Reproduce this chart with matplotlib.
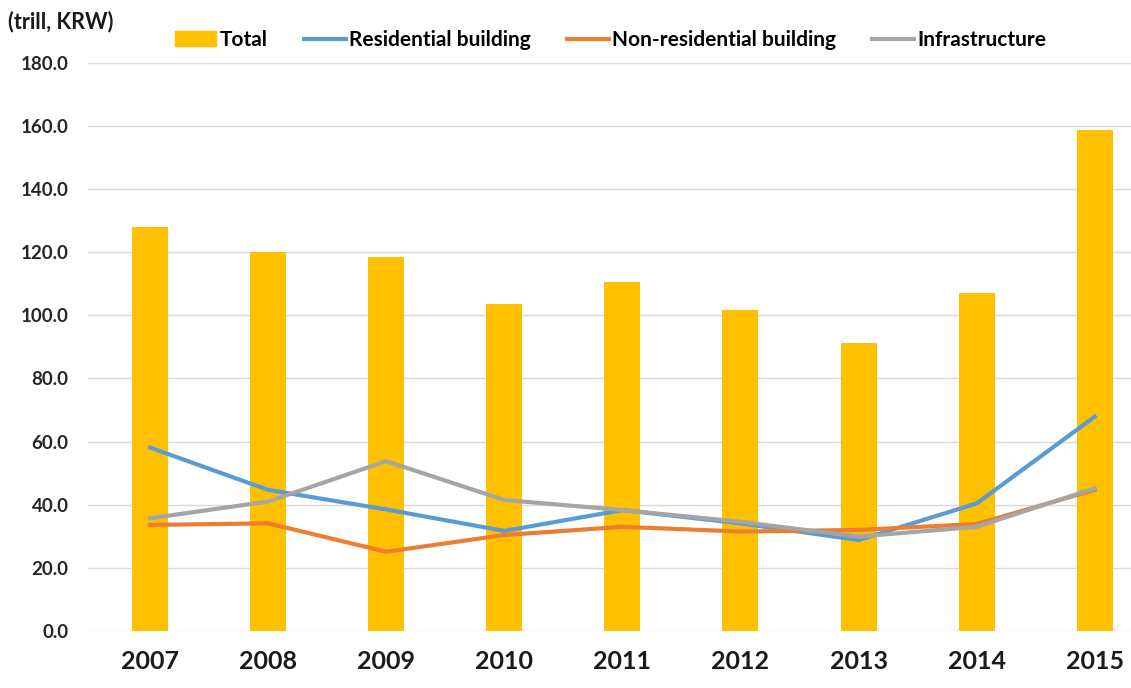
import matplotlib.pyplot as plt
from matplotlib.patches import Patch
from matplotlib.lines import Line2D

# data (trill, KRW)
years = ['2007', '2008', '2009', '2010', '2011', '2012', '2013', '2014', '2015']
total = [128.0, 120.1, 118.5, 103.6, 110.5, 101.7, 91.2, 107.1, 158.7]
residential = [58.1, 44.7, 38.5, 31.7, 38.3, 34.1, 28.8, 40.4, 67.9]
non_residential = [33.6, 34.1, 25.1, 30.4, 33.0, 31.5, 32.0, 33.9, 44.7]
infrastructure = [35.7, 41.0, 53.8, 41.5, 38.3, 34.6, 29.9, 33.0, 45.2]
y_ticks = [0, 20, 40, 60, 80, 100, 120, 140, 160, 180]

plt.rcParams['font.family'] = ['Lato', 'DejaVu Sans']
plt.rcParams['font.weight'] = 'bold'

fig = plt.figure(figsize=(11.31, 6.88), dpi=100)
ax = fig.add_axes([88 / 1131, 57 / 688, 1 - 88 / 1131, (631 - 62.7) / 688])

x = list(range(len(years)))
ax.bar(x, total, width=0.305, color='#FFC000', zorder=2)
ax.plot(x, residential, color='#5B9BD5', lw=3, zorder=3)
ax.plot(x, non_residential, color='#ED7D31', lw=3, zorder=3)
ax.plot(x, infrastructure, color='#A5A5A5', lw=3, zorder=3)

ax.set_ylim(0, 180)
ax.set_xlim(-0.525, 8.307)
ax.set_yticks(y_ticks)
ax.set_yticklabels([f'{v:.1f}' for v in y_ticks], fontsize=13.5, fontweight='bold', color='#262626')
ax.set_xticks(x)
ax.set_xticklabels(years, fontsize=18, fontweight='bold', color='#1a1a1a')
ax.tick_params(axis='both', length=0)
ax.tick_params(axis='x', pad=14)
ax.tick_params(axis='y', pad=14)
ax.grid(axis='y', color='#D9D9D9', lw=1, zorder=0)
for s in ax.spines.values():
    s.set_visible(False)

fig.text(8 / 1131, 1 - 22 / 688, '(trill, KRW)', fontsize=15.5, fontweight='bold',
         color='#1a1a1a', va='center', ha='left')

handles = [
    Patch(color='#FFC000', label='Total'),
    Line2D([], [], color='#5B9BD5', lw=3, label='Residential building'),
    Line2D([], [], color='#ED7D31', lw=3, label='Non-residential building'),
    Line2D([], [], color='#A5A5A5', lw=3, label='Infrastructure'),
]
fig.legend(handles=handles, loc='center left', bbox_to_anchor=(156 / 1131, 1 - 40 / 688),
           ncol=4, frameon=False, handlelength=2.0, handleheight=0.7, handletextpad=0.15,
           columnspacing=1.75, prop={'weight': 'bold', 'size': 15})

fig.savefig('out.png', dpi=100)
